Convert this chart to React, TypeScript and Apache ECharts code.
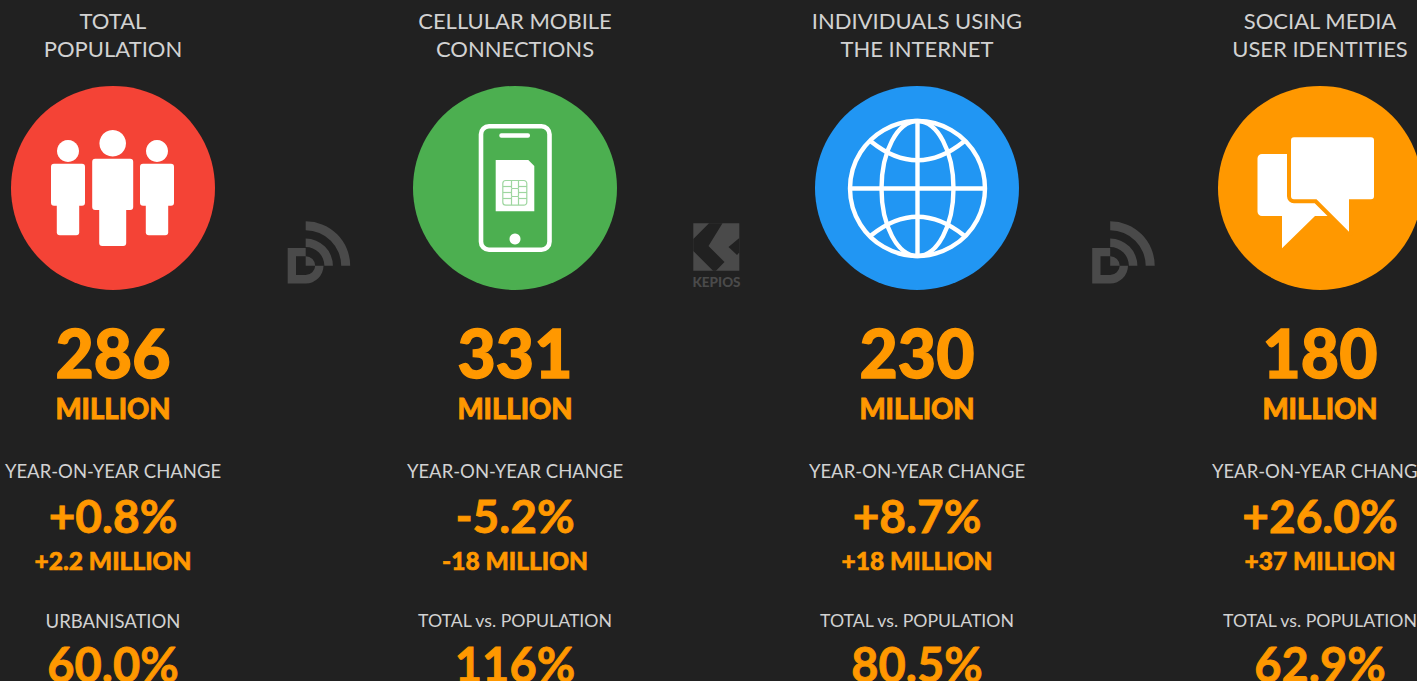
import React, { useEffect, useRef } from "react";
import * as echarts from "echarts";

const titlesLine1 = ["TOTAL", "CELLULAR MOBILE", "INDIVIDUALS USING", "SOCIAL MEDIA"];
const titlesLine2 = ["POPULATION", "CONNECTIONS", "THE INTERNET", "USER IDENTITIES"];
const totals = ["286", "331", "230", "180"];
const units = ["MILLION", "MILLION", "MILLION", "MILLION"];
const changeLabels = ["YEAR-ON-YEAR CHANGE", "YEAR-ON-YEAR CHANGE", "YEAR-ON-YEAR CHANGE", "YEAR-ON-YEAR CHANGE"];
const changePercents = ["+0.8%", "-5.2%", "+8.7%", "+26.0%"];
const changeAbsolutes = ["+2.2 MILLION", "-18 MILLION", "+18 MILLION", "+37 MILLION"];
const ratioLabels = ["URBANISATION", "TOTAL vs. POPULATION", "TOTAL vs. POPULATION", "TOTAL vs. POPULATION"];
const ratios = ["60.0%", "116%", "80.5%", "62.9%"];
const logoWord = "KEPIOS";

const BG = "#212121";
const ORANGE = "#FF9800";
const LABEL = "#d2d2d2";
const LOGO = "#4a4a4a";
const WHITE = "#ffffff";
const CIRCLE_COLORS = ["#F44336", "#4CAF50", "#2196F3", "#FF9800"];
const COLUMN_X = [113, 515, 917, 1320];
const FONT = "Lato, 'Open Sans', sans-serif";

const DR_PATH =
  "M305.7 221.3A44.5 44.5 0 0 1 350.2 265.8H341.2A35.5 35.5 0 0 0 305.7 230.3Z" +
  "M305.7 238.6A27.2 27.2 0 0 1 332.9 265.8H324.4A18.7 18.7 0 0 0 305.7 247.1Z" +
  "M287.7 248H305.7V256.3H296V275H305.7A9.5 9.5 0 0 0 315.2 265.8H323.5A17.8 17.8 0 0 1 305.7 283.5H287.7Z" +
  "M305.7 256.3A9.5 9.5 0 0 1 315.2 265.8H305.7Z";
const BUBBLE_FRONT =
  "M1294 137.3H1371A3 3 0 0 1 1374 140.3V196.3A3 3 0 0 1 1371 199.3H1349V231.7L1316.5 199.3H1294A3 3 0 0 1 1291 196.3V140.3A3 3 0 0 1 1294 137.3Z";
const BUBBLE_BACK =
  "M1262 154H1330V216H1315L1282 248.3V216H1262A4.5 4.5 0 0 1 1257.5 211.5V158.5A4.5 4.5 0 0 1 1262 154Z";

function pathShape(d: string) {
  return echarts.graphic.extendPath(d, {});
}
echarts.graphic.registerShape("drLogoPath", pathShape(DR_PATH));
echarts.graphic.registerShape("bubbleFront", pathShape(BUBBLE_FRONT));
echarts.graphic.registerShape("bubbleBack", pathShape(BUBBLE_BACK));

function label(text: string, x: number, y: number, size: number, weight: number | string, fill: string, embolden = 0) {
  const style: any = { text, fill, fontSize: size, fontWeight: weight, fontFamily: FONT, align: "center", verticalAlign: "middle" };
  if (embolden > 0) {
    style.stroke = fill;
    style.lineWidth = embolden;
  }
  return { type: "text", x, y, silent: true, style };
}
const rrect = (x1: number, y1: number, x2: number, y2: number, r: number, style: any = { fill: WHITE }) => ({
  type: "rect",
  shape: { x: x1, y: y1, width: x2 - x1, height: y2 - y1, r },
  style,
});
const disc = (cx: number, cy: number, r: number, fill: string) => ({ type: "circle", shape: { cx, cy, r }, style: { fill } });
const poly = (points: number[][], fill: string) => ({ type: "polygon", shape: { points }, style: { fill } });
const seg = (x1: number, y1: number, x2: number, y2: number, stroke: string, lineWidth: number) => ({
  type: "line",
  shape: { x1, y1, x2, y2 },
  style: { stroke, lineWidth },
});

function peopleIcon(): any[] {
  const person = (cx: number, headY: number, headR: number, bodyHalf: number, bodyTop: number, bodyBottom: number, legHalf: number, legBottom: number) => [
    disc(cx, headY, headR, WHITE),
    rrect(cx - bodyHalf, bodyTop, cx + bodyHalf, bodyBottom, 3),
    rrect(cx - legHalf, bodyBottom - 4, cx + legHalf, legBottom, 3),
  ];
  return [
    ...person(68, 151, 11, 17, 163.7, 205.7, 11.2, 235.3),
    ...person(112.7, 143.3, 13.3, 20.5, 158.7, 210, 13.5, 246),
    ...person(157, 151, 11, 17, 163.7, 205.7, 11.2, 235.3),
  ];
}

function phoneIcon(): any[] {
  const chip = "#9ed6a0";
  return [
    rrect(481, 126.3, 549.5, 249.7, 8, { fill: "transparent", stroke: WHITE, lineWidth: 4.6 }),
    rrect(499.3, 133.3, 530, 137.7, 2),
    disc(515, 239, 5.5, WHITE),
    poly([[495.7, 160], [528.3, 160], [534.3, 166], [534.3, 211.3], [495.7, 211.3]], WHITE),
    rrect(502.8, 180.5, 526.8, 205.2, 3, { fill: "transparent", stroke: chip, lineWidth: 1.2 }),
    rrect(511.5, 188.5, 518.5, 196.5, 1, { fill: "transparent", stroke: chip, lineWidth: 1.2 }),
    seg(503, 186.5, 511, 186.5, chip, 1.2),
    seg(519, 186.5, 527, 186.5, chip, 1.2),
    seg(503, 192.5, 511, 192.5, chip, 1.2),
    seg(519, 192.5, 527, 192.5, chip, 1.2),
    seg(503, 198.5, 511, 198.5, chip, 1.2),
    seg(519, 198.5, 527, 198.5, chip, 1.2),
    seg(511.5, 181, 511.5, 188.5, chip, 1.2),
    seg(518.5, 181, 518.5, 188.5, chip, 1.2),
    seg(511.5, 196.5, 511.5, 205, chip, 1.2),
    seg(518.5, 196.5, 518.5, 205, chip, 1.2),
  ];
}

function globeIcon(): any[] {
  const cx = 917.5;
  const cy = 188.5;
  const width = 4.4;
  const line = { fill: "transparent", stroke: WHITE, lineWidth: width };
  return [
    { type: "circle", shape: { cx, cy, r: 67.5 }, style: line },
    { type: "ellipse", shape: { cx, cy, rx: 36, ry: 67.5 }, style: line },
    seg(cx, cy - 67.5, cx, cy + 67.5, WHITE, width),
    seg(cx - 67.5, cy, cx + 67.5, cy, WHITE, width),
    { type: "bezierCurve", shape: { x1: 871, y1: 141.5, cpx1: cx, cpy1: 179, x2: 964, y2: 141.5 }, style: line },
    { type: "bezierCurve", shape: { x1: 871, y1: 235.5, cpx1: cx, cpy1: 198, x2: 964, y2: 235.5 }, style: line },
  ];
}

function bubbleIcon(): any[] {
  return [
    { type: "bubbleBack", style: { fill: WHITE } },
    { type: "bubbleFront", style: { fill: WHITE, stroke: ORANGE, lineWidth: 8, lineJoin: "round" } },
    { type: "bubbleFront", style: { fill: WHITE } },
  ];
}

function drLogo(dx: number) {
  return { type: "drLogoPath", x: dx, y: 0, style: { fill: LOGO } };
}

function kepiosLogo(): any[] {
  return [
    { type: "rect", shape: { x: 693.3, y: 223.3, width: 46, height: 47.5 }, style: { fill: LOGO } },
    poly([[709, 223.3], [722.5, 223.3], [708.5, 246], [724.5, 262], [716, 270.8], [713, 270.8], [693.3, 251], [693.3, 239]], BG),
    poly([[739.3, 238], [728.5, 247], [737, 255], [739.3, 252.5]], BG),
    label(logoWord, 716.5, 282, 13.5, 900, LOGO),
  ];
}

const ICONS = [peopleIcon, phoneIcon, globeIcon, bubbleIcon];

function buildGraphic(): any[] {
  const items: any[] = [];
  COLUMN_X.forEach((x, i) => {
    items.push(label(titlesLine1[i], x, 20, 22, 400, LABEL));
    items.push(label(titlesLine2[i], x, 48, 22, 400, LABEL));
    items.push(disc(x, 188, 102, CIRCLE_COLORS[i]));
    items.push(...ICONS[i]());
    items.push(label(totals[i], x, 352, 66, 900, ORANGE, 1.4));
    items.push(label(units[i], x, 408.5, 27.5, 900, ORANGE, 0.8));
    items.push(label(changeLabels[i], x, 471, 18.5, 400, LABEL));
    items.push(label(changePercents[i], x, 515.5, 46, 700, ORANGE, 0.8));
    items.push(label(changeAbsolutes[i], x, 560.5, 24.5, 900, ORANGE, 0.6));
    items.push(label(ratioLabels[i], x, 620.5, i === 0 ? 18.5 : 17.7, 400, LABEL));
    items.push(label(ratios[i], x, 664, 47, 700, ORANGE, 0.8));
  });
  items.push(drLogo(0), drLogo(804.5), ...kepiosLogo());
  return items;
}

export default function App() {
  const ref = useRef<HTMLDivElement>(null);
  useEffect(() => {
    document.body.style.margin = "0";
    document.body.style.background = BG;
    document.body.style.overflow = "hidden";
    const chart = echarts.init(ref.current!, undefined, { renderer: "svg" });
    chart.setOption({
      animation: false,
      backgroundColor: BG,
      graphic: { elements: buildGraphic() },
    });
    return () => chart.dispose();
  }, []);
  return <div ref={ref} style={{ width: 1417, height: 681 }} />;
}
